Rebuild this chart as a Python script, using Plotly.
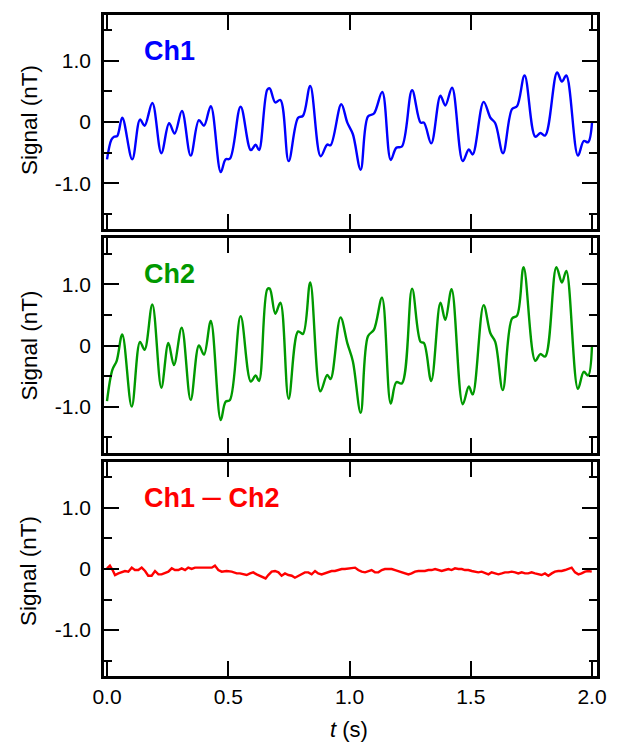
import plotly.graph_objects as go
from plotly.subplots import make_subplots

# ---------------- data ----------------
t_ch1 = [0.0, 0.018, 0.029, 0.042, 0.063, 0.104, 0.136, 0.155, 0.187, 0.224, 0.256, 0.279, 0.309,
         0.345, 0.379, 0.400, 0.428, 0.469, 0.489, 0.507, 0.551, 0.593, 0.613, 0.627, 0.661, 0.671,
         0.694, 0.715, 0.749, 0.788, 0.808, 0.838, 0.881, 0.908, 0.922, 0.966, 0.991, 1.014, 1.046,
         1.076, 1.101, 1.135, 1.170, 1.193, 1.216, 1.258, 1.293, 1.307, 1.337, 1.375, 1.395, 1.423,
         1.467, 1.492, 1.508, 1.553, 1.581, 1.601, 1.633, 1.670, 1.691, 1.722, 1.766, 1.787, 1.807,
         1.856, 1.876, 1.894, 1.942, 1.966, 1.984, 2.0]
v_ch1 = [-0.61, -0.29, -0.24, -0.23, 0.07, -0.61, 0.04, -0.06, 0.31, -0.51, -0.02, -0.19, 0.18,
         -0.55, 0.03, -0.06, 0.26, -0.82, -0.61, -0.60, 0.25, -0.46, -0.37, -0.46, 0.53, 0.55,
         0.32, 0.36, -0.64, 0.07, 0.10, 0.59, -0.56, -0.37, -0.38, 0.29, -0.01, -0.20, -0.78,
         0.09, 0.14, 0.49, -0.62, -0.42, -0.40, 0.52, -0.01, -0.01, -0.35, 0.43, 0.27, 0.56,
         -0.64, -0.45, -0.53, 0.33, 0.07, -0.02, -0.51, 0.21, 0.26, 0.76, -0.24, -0.18, -0.22,
         0.81, 0.66, 0.76, -0.55, -0.31, -0.33, -0.01]

t_ch2 = [0.0, 0.022, 0.040, 0.063, 0.102, 0.136, 0.155, 0.187, 0.224, 0.253, 0.276, 0.308, 0.345,
         0.379, 0.400, 0.428, 0.469, 0.489, 0.507, 0.551, 0.593, 0.613, 0.627, 0.661, 0.671, 0.694,
         0.715, 0.749, 0.788, 0.808, 0.838, 0.880, 0.908, 0.922, 0.963, 0.991, 1.014, 1.046, 1.076,
         1.101, 1.134, 1.170, 1.193, 1.216, 1.258, 1.293, 1.307, 1.337, 1.375, 1.395, 1.421, 1.467,
         1.492, 1.508, 1.553, 1.581, 1.601, 1.632, 1.670, 1.691, 1.718, 1.766, 1.787, 1.807, 1.853,
         1.876, 1.894, 1.942, 1.966, 1.984, 2.0]
v_ch2 = [-0.91, -0.40, -0.25, 0.18, -1.00, 0.06, -0.07, 0.67, -0.69, 0.04, -0.32, 0.29, -0.89,
         0.0, -0.15, 0.40, -1.22, -0.92, -0.89, 0.48, -0.59, -0.49, -0.58, 0.92, 0.93, 0.52,
         0.70, -0.87, 0.23, 0.19, 1.03, -0.75, -0.48, -0.55, 0.46, 0.04, -0.26, -1.10, 0.15,
         0.26, 0.78, -0.95, -0.60, -0.62, 0.93, 0.06, 0.04, -0.58, 0.70, 0.42, 0.92, -0.96,
         -0.67, -0.80, 0.66, 0.20, 0.06, -0.73, 0.44, 0.49, 1.28, -0.25, -0.14, -0.18, 1.28,
         1.03, 1.22, -0.71, -0.43, -0.49, 0.0]

t_diff = [0.000, 0.012, 0.023, 0.033, 0.047, 0.060, 0.074, 0.088, 0.102, 0.115, 0.129, 0.143, 0.157,
          0.170, 0.184, 0.198, 0.212, 0.225, 0.239, 0.253, 0.267, 0.280, 0.294, 0.308, 0.322, 0.335,
          0.349, 0.363, 0.377, 0.390, 0.404, 0.418, 0.432, 0.445, 0.459, 0.473, 0.493, 0.514, 0.535,
          0.548, 0.562, 0.576, 0.590, 0.603, 0.617, 0.631, 0.645, 0.654, 0.665, 0.679, 0.693, 0.707,
          0.720, 0.734, 0.748, 0.762, 0.775, 0.789, 0.803, 0.816, 0.830, 0.844, 0.858, 0.871, 0.885,
          0.899, 0.913, 0.926, 0.940, 0.954, 0.968, 0.981, 0.995, 1.009, 1.023, 1.036, 1.050, 1.064,
          1.078, 1.091, 1.105, 1.119, 1.133, 1.146, 1.160, 1.174, 1.188, 1.201, 1.215, 1.229, 1.243,
          1.256, 1.270, 1.284, 1.298, 1.311, 1.325, 1.339, 1.353, 1.366, 1.380, 1.394, 1.408, 1.421,
          1.435, 1.449, 1.463, 1.476, 1.490, 1.504, 1.518, 1.531, 1.545, 1.559, 1.573, 1.586, 1.600,
          1.614, 1.628, 1.641, 1.655, 1.669, 1.683, 1.696, 1.710, 1.724, 1.737, 1.751, 1.765, 1.779,
          1.792, 1.806, 1.820, 1.834, 1.847, 1.861, 1.875, 1.889, 1.902, 1.916, 1.930, 1.944, 1.957,
          1.971, 1.985, 1.999]
v_diff = [0.011, 0.055, -0.017, -0.099, -0.072, -0.055, -0.033, -0.044, 0.022, -0.017, -0.017, 0.022,
          -0.033, -0.110, -0.110, -0.033, -0.088, -0.088, -0.072, -0.044, 0.011, -0.017, -0.017, 0.011,
          -0.017, 0.022, 0.0, 0.022, 0.022, 0.022, 0.022, 0.011, 0.022, 0.055, -0.017, -0.044,
          -0.033, -0.044, -0.072,
          -0.072, -0.088, -0.099, -0.072, -0.055, -0.088, -0.110, -0.127,
          -0.154,
          -0.099, -0.044, -0.033, -0.055, -0.110, -0.072, -0.099, -0.110, -0.143, -0.110, -0.088,
          -0.055, -0.055, -0.088, -0.033, -0.072, -0.088, -0.072, -0.044, -0.033, -0.033, -0.017,
          0.0, 0.0, 0.011, 0.022, 0.022, -0.017, -0.044, -0.055, -0.033, -0.017, -0.055, -0.055,
          -0.017, 0.0, 0.0, 0.0, -0.017, -0.033, -0.044, -0.072, -0.088, -0.072, -0.044, -0.033,
          -0.033, -0.033, -0.017, -0.017, 0.0, -0.017, -0.033, -0.017, 0.0, -0.017, 0.011, 0.0,
          0.0, -0.017, -0.017, -0.033, -0.044, -0.055, -0.044, -0.072, -0.088, -0.055, -0.072,
          -0.088, -0.072, -0.055, -0.055, -0.044, -0.055, -0.072, -0.055, -0.072, -0.072, -0.055,
          -0.072, -0.088, -0.099, -0.072, -0.110, -0.072, -0.044, -0.033, -0.033, -0.017, 0.0,
          0.022, -0.055, -0.088, -0.072, -0.044, -0.033, -0.044]

x_tickvals = [0, 0.5, 1.0, 1.5, 2.0]
x_ticktext = ["0.0", "0.5", "1.0", "1.5", "2.0"]
y_tickvals = [-1.0, 0.0, 1.0]
y_ticktext = ["-1.0", "0", "1.0"]
y_minorvals = [-1.5, -0.5, 0.5, 1.5]

panel_labels = ["<b>Ch1</b>", "<b>Ch2</b>",
                "<b>Ch1</b> <span style='font-size:33px'>\u2013</span> <b>Ch2</b>"]
panel_label_y = [1.155, 1.17, 1.2]
colors = ["#0000FF", "#009900", "#FF0000"]

FONT = "Arial, Liberation Sans, sans-serif"

# ---------------- figure ----------------
fig = make_subplots(rows=3, cols=1, vertical_spacing=0.0143)

series = [(t_ch1, v_ch1, "spline"), (t_ch2, v_ch2, "spline"), (t_diff, v_diff, "linear")]
for i, (tx, vy, shape) in enumerate(series):
    fig.add_trace(go.Scatter(x=tx, y=vy, mode="lines",
                             line=dict(color=colors[i], width=2.4, shape=shape),
                             showlegend=False, hoverinfo="skip"), row=i + 1, col=1)

for i in range(3):
    fig.update_xaxes(range=[-0.0124, 2.0206], showline=True, mirror="ticks", linewidth=2.5,
                     linecolor="black", ticks="inside", ticklen=15, tickwidth=2, tickcolor="black",
                     tickvals=x_tickvals, ticktext=x_ticktext, showticklabels=(i == 2),
                     showgrid=False, zeroline=False,
                     tickfont=dict(family=FONT, size=21, color="black"),
                     row=i + 1, col=1)
    fig.update_yaxes(range=[-1.75, 1.75], showline=True, mirror="ticks", linewidth=2.5,
                     linecolor="black", ticks="inside", ticklen=15, tickwidth=2, tickcolor="black",
                     tickvals=y_tickvals, ticktext=y_ticktext, showgrid=False, zeroline=False,
                     tickfont=dict(family=FONT, size=21, color="black"),
                     ticklabelstandoff=6,
                     minor=dict(tickvals=y_minorvals, ticks="inside", ticklen=8, tickwidth=2,
                                tickcolor="black", showgrid=False),
                     row=i + 1, col=1)
    # panel label
    fig.add_annotation(x=0.143, y=panel_label_y[i], xref=f"x{i+1}" if i else "x",
                       yref=f"y{i+1}" if i else "y",
                       text=panel_labels[i], showarrow=False, xanchor="left", yanchor="middle",
                       font=dict(family=FONT, size=27, color=colors[i]))
    # y title
    dom_mid = [0.8411, 0.5, 0.1589][i]
    fig.add_annotation(x=-0.152, y=dom_mid, xref="paper", yref="paper", text="Signal (nT)",
                       showarrow=False, textangle=-90, xanchor="center", yanchor="middle",
                       font=dict(family=FONT, size=22.5, color="black"))

fig.add_annotation(x=0.497, y=-0.0815, xref="paper", yref="paper", text="<i>t</i> (s)",
                   showarrow=False, xanchor="center", yanchor="middle",
                   font=dict(family=FONT, size=22, color="black"))

fig.update_layout(width=621, height=742, margin=dict(l=104, r=24, t=13, b=66),
                  paper_bgcolor="white", plot_bgcolor="white", hovermode=False,
                  font=dict(family=FONT, color="black"))

fig.write_html("out.html", config={"displayModeBar": False},
               post_script="document.body.style.margin='0';document.body.style.overflow='hidden';")
